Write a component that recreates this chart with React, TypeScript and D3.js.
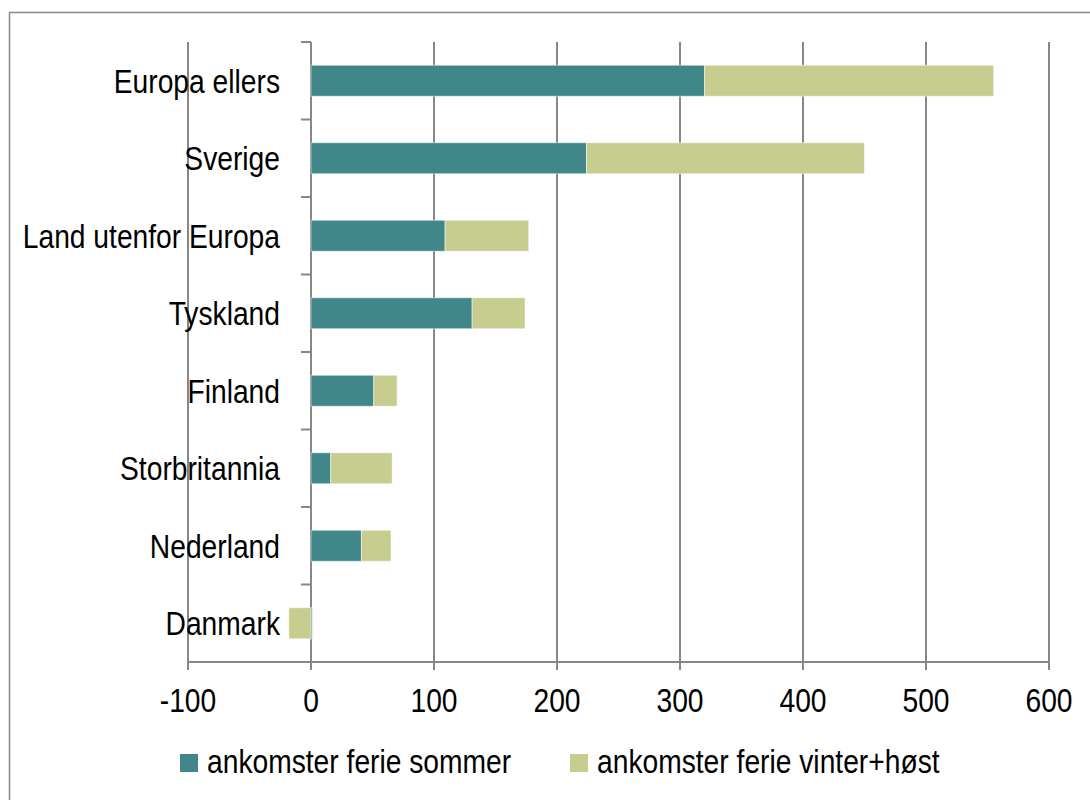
import React from 'react';
import * as d3 from 'd3';

const categories = ['Europa ellers', 'Sverige', 'Land utenfor Europa', 'Tyskland', 'Finland', 'Storbritannia', 'Nederland', 'Danmark'];
const sommer = [320, 224, 109, 131, 51, 16, 41, 1];
const vinterHost = [235, 226, 68, 43, 19, 50, 24, -18];
const seriesNames = ['ankomster ferie sommer', 'ankomster ferie vinter+høst'];
const colors = ['#41878A', '#C6CD8F'];
const xTicks = [-100, 0, 100, 200, 300, 400, 500, 600];

// no Arial Narrow available: squeeze Liberation Sans horizontally
const FONT = '"Liberation Sans", Arial, sans-serif';
const NARROW = 0.83;

const Label: React.FC<{ x: number; y: number; anchor?: 'start' | 'middle' | 'end'; children: React.ReactNode }> = ({ x, y, anchor = 'start', children }) => (
  <text transform={`translate(${x},${y}) scale(${NARROW},1)`} textAnchor={anchor} fontFamily={FONT} fontSize={34} fill="#000">
    {children}
  </text>
);

const App: React.FC = () => {
  const width = 1090;
  const height = 800;
  const left = 188;
  const right = 1049;
  const top = 42;
  const bottom = 662;

  const x = d3.scaleLinear().domain([-100, 600]).range([left, right]);
  const y = d3.scaleBand<string>().domain(categories).range([top, bottom]).paddingInner(0.6).paddingOuter(0.3);
  const band = (bottom - top) / categories.length;

  // stacked: positives stack right from 0, negatives stack left from 0
  const segments: { cat: string; x0: number; x1: number; color: string }[] = [];
  categories.forEach((cat, i) => {
    let pos = 0;
    let neg = 0;
    [sommer[i], vinterHost[i]].forEach((v, s) => {
      if (v >= 0) {
        segments.push({ cat, x0: pos, x1: pos + v, color: colors[s] });
        pos += v;
      } else {
        segments.push({ cat, x0: neg + v, x1: neg, color: colors[s] });
        neg += v;
      }
    });
  });

  const grid = '#878787';

  return (
    <svg width={width} height={height} style={{ position: 'absolute', left: 0, top: 0, background: '#fff' }}>
      <rect x={9.5} y={12.5} width={1100} height={820} fill="#fff" stroke="#888" strokeWidth={1.5} />

      {/* gridlines + x ticks */}
      {xTicks.map(t => (
        <line key={t} x1={x(t)} x2={x(t)} y1={top} y2={bottom + 8} stroke={grid} strokeWidth={2} />
      ))}
      <line x1={left} x2={right} y1={bottom} y2={bottom} stroke={grid} strokeWidth={2} />

      {/* category ticks on the zero axis */}
      {d3.range(categories.length + 1).map(k => (
        <line key={k} x1={x(0) - 10} x2={x(0)} y1={top + k * band} y2={top + k * band} stroke={grid} strokeWidth={2} />
      ))}

      {segments.map((s, i) => (
        <rect
          key={i}
          x={x(s.x0)}
          width={x(s.x1) - x(s.x0)}
          y={y(s.cat)}
          height={y.bandwidth()}
          fill={s.color}
          stroke="rgba(255,255,255,0.5)"
          strokeWidth={1}
        />
      ))}

      {categories.map(c => (
        <Label key={c} x={280} y={(y(c) ?? 0) + y.bandwidth() / 2 + 12} anchor="end">{c}</Label>
      ))}

      {xTicks.map(t => (
        <Label key={t} x={x(t)} y={712} anchor="middle">{t}</Label>
      ))}

      {[{ sx: 180, tx: 207 }, { sx: 570, tx: 597 }].map((p, i) => (
        <g key={i}>
          <rect x={p.sx} y={754} width={18} height={18} fill={colors[i]} />
          <Label x={p.tx} y={773}>{seriesNames[i]}</Label>
        </g>
      ))}
    </svg>
  );
};

export default App;
